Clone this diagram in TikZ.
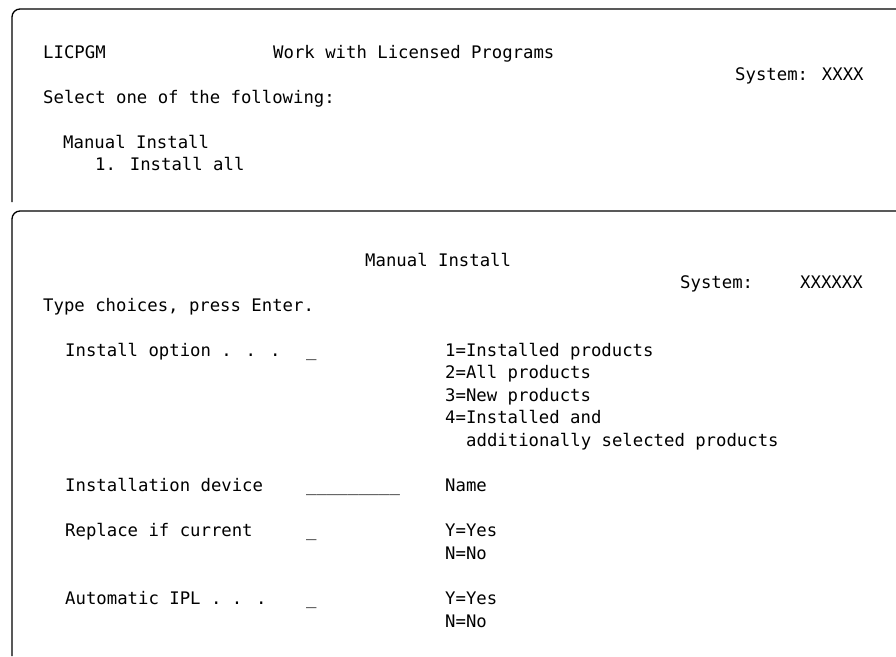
\documentclass[tikz,border=0pt]{standalone}
\usepackage{fontspec}
\newfontfamily\scrfont{DejaVu Sans Mono}
\begin{document}
\begin{tikzpicture}[x=1pt,y=-1pt,
  txt/.style={anchor=base west, inner sep=0pt, font=\scrfont\fontsize{17.3}{20}\selectfont},
  frame/.style={draw=black, line width=1.3pt, rounded corners=8pt}]
\useasboundingbox (0,0) rectangle (896,656);
% panel 1
\draw[frame] (896,9) -- (12,9) -- (12,202);
\node[txt] (p1id) at (43,58) {LICPGM};
\node[txt] (p1title) at (273,58) {Work with Licensed Programs};
\node[txt] (p1sys) at (735,80) {System: XXXX};
\node[txt] (p1sel) at (43,103) {Select one of the following:};
\node[txt] (p1man) at (63,148) {Manual Install};
\node[txt] (p1all) at (95,170) {1. Install all};
% panel 2
\draw[frame] (896,211) -- (12,211) -- (12,656);
\node[txt] (p2title) at (365,266) {Manual Install};
\node[txt] (p2sys) at (680,288) {System:};
\node[txt] (p2sysv) at (800,288) {XXXXXX};
\node[txt] (p2type) at (43,311) {Type choices, press Enter.};
\node[txt] (optlbl) at (65,356) {Install option . . .};
\node[txt] (optfld) at (306,356) {\_};
\node[txt] (opt1) at (445,356) {1=Installed products};
\node[txt] (opt2) at (445,378.6) {2=All products};
\node[txt] (opt3) at (445,401.2) {3=New products};
\node[txt] (opt4) at (445,423.8) {4=Installed and};
\node[txt] (opt4b) at (466,446.4) {additionally selected products};
\node[txt] (devlbl) at (65,491.6) {Installation device};
\node[txt] (devfld) at (306,491.6) {\_\_\_\_\_\_\_\_\_};
\node[txt] (devval) at (445,491.6) {Name};
\node[txt] (replbl) at (65,536.8) {Replace if current};
\node[txt] (repfld) at (306,536.8) {\_};
\node[txt] (repy) at (445,536.8) {Y=Yes};
\node[txt] (repn) at (445,559.4) {N=No};
\node[txt] (ipllbl) at (65,604.6) {Automatic IPL . . .};
\node[txt] (iplfld) at (306,604.6) {\_};
\node[txt] (iply) at (445,604.6) {Y=Yes};
\node[txt] (ipln) at (445,627.2) {N=No};
\end{tikzpicture}
\end{document}
